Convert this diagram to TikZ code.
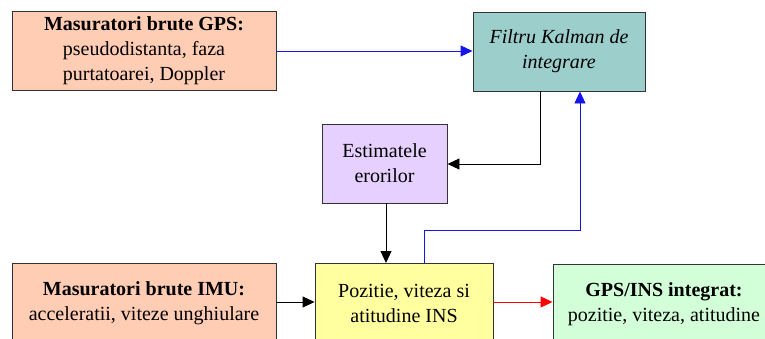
\documentclass[tikz,border=0pt]{standalone}
\usepackage{fontspec}
\setmainfont{Liberation Serif}
\usetikzlibrary{arrows.meta}
\definecolor{peach}{RGB}{255,204,180}
\definecolor{teal2}{RGB}{156,206,204}
\definecolor{lav}{RGB}{230,208,255}
\definecolor{lyel}{RGB}{255,255,160}
\definecolor{lgreen}{RGB}{210,255,215}
\definecolor{bline}{RGB}{20,20,235}
\tikzset{
  blk/.style={draw=black!80, line width=0.9pt, align=center, inner sep=0pt,
    font=\fontsize{20}{25}\selectfont},
  conn/.style={line width=0.9pt, -{Triangle[length=12pt,width=11pt]}},
}
\begin{document}
\begin{tikzpicture}[x=1pt,y=-1pt]
\useasboundingbox (0,0) rectangle (765,338);
\clip (0,0) rectangle (765,338);
\fill[white] (0,0) rectangle (765,338);
% boxes
\node[blk, fill=peach, minimum width=264pt, minimum height=79pt] (gps) at (144,50.5)
  {\textbf{Masuratori brute GPS:}\\pseudodistanta, faza\\purtatoarei, Doppler};
\node[blk, fill=teal2, minimum width=172pt, minimum height=79pt] (kal) at (559,51.5)
  {\itshape Filtru Kalman de\\\itshape integrare};
\node[blk, fill=lav, minimum width=125pt, minimum height=79pt] (est) at (384.5,163.5)
  {Estimatele\\erorilor};
\node[blk, fill=peach, minimum width=264pt, minimum height=80pt] (imu) at (144,303)
  {\textbf{Masuratori brute IMU:}\\acceleratii, viteze unghiulare};
\node[blk, fill=lyel, minimum width=178pt, minimum height=80pt] (ins) at (404,303)
  {Pozitie, viteza si\\atitudine INS};
\node[blk, fill=lgreen, minimum width=222pt, minimum height=80pt] (res) at (664,304)
  {\textbf{GPS/INS integrat:}\\pozitie, viteza, atitudine};
% connectors
\coordinate (k1) at (540,164);
\coordinate (b1) at (424,230);
\coordinate (b2) at (580,230);
\draw[conn, draw=bline, fill=bline] (gps.east |- 0,51) -- (kal.west |- 0,51);
\draw[conn] (kal.south -| k1) -- (k1) -- (est.east |- k1);
\draw[conn] (est.south) ++(1.5,0) -- (386,263);
\draw[conn, draw=bline] (ins.north -| b1) -- (b1) -- (b2) -- (kal.south -| b2);
\draw[conn] (imu.east |- 0,302) -- (ins.west |- 0,302);
\draw[conn, draw=red] (ins.east |- 0,302) -- (res.west |- 0,302);
\end{tikzpicture}
\end{document}
